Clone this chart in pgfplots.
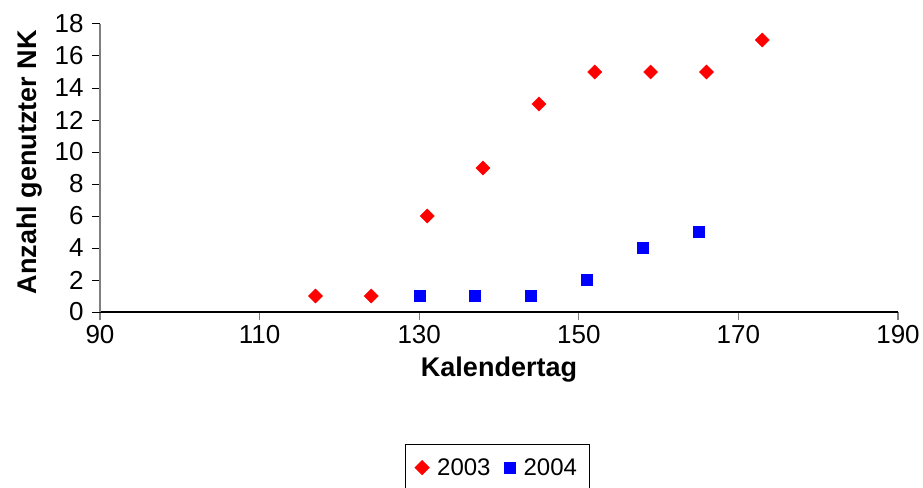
\documentclass[border=0pt]{standalone}
\usepackage{fontspec}
\setmainfont{Liberation Sans}
\usepackage{pgfplots}
\pgfplotsset{compat=1.18}
\begin{document}
\begin{tikzpicture}
\begin{axis}[
  at={(0,0)}, anchor=south west,
  scale only axis, width=798pt, height=288pt,
  xmin=90, xmax=190, ymin=0, ymax=18,
  xtick={90,110,...,190}, ytick={0,2,...,18},
  axis x line=bottom, axis y line=left,
  x axis line style={-, black, line width=1.2pt},
  y axis line style={-, gray, line width=1.6pt},
  tick align=outside, major tick length=8pt,
  xtick style={gray, line width=1.2pt},
  ytick style={black, line width=1pt},
  /pgf/number format/assume math mode=true,
  ticklabel style={font=\fontsize{26}{28}\selectfont},
  xticklabel style={yshift=-2pt},
  yticklabel style={xshift=-5pt},
  xlabel={\bfseries Kalendertag},
  ylabel={\bfseries Anzahl genutzter NK},
  label style={font=\fontsize{27}{30}\selectfont},
  xlabel style={at={(rel axis cs:0.5,0)}, anchor=center, yshift=-58pt},
  ylabel style={at={(rel axis cs:0,0.52)}, anchor=center, yshift=70pt},
  legend style={at={(rel axis cs:0.4975,0)}, anchor=north, yshift=-132pt,
    draw=black, line width=0.8pt, font=\fontsize{24}{28}\selectfont,
    legend columns=2, inner xsep=10pt, inner ysep=12pt,
    /tikz/every odd column/.append style={column sep=6pt},
    /tikz/every even column/.append style={column sep=12pt}},
  legend cell align=left,
]
\addplot[only marks, mark=square*, mark size=5pt, color=red, mark options={fill=red, draw=red, rotate=45}]
  coordinates {(117,1) (124,1) (131,6) (138,9) (145,13) (152,15) (159,15) (166,15) (173,17)};
\addlegendentry{2003}
\addplot[only marks, mark=square*, mark size=5.5pt, color=blue, mark options={fill=blue, draw=blue}]
  coordinates {(130,1) (137,1) (144,1) (151,2) (158,4) (165,5)};
\addlegendentry{2004}
\end{axis}
\pgfresetboundingbox
\path[use as bounding box] (-100pt,-175pt) rectangle (823pt,312pt);
\end{tikzpicture}
\end{document}
